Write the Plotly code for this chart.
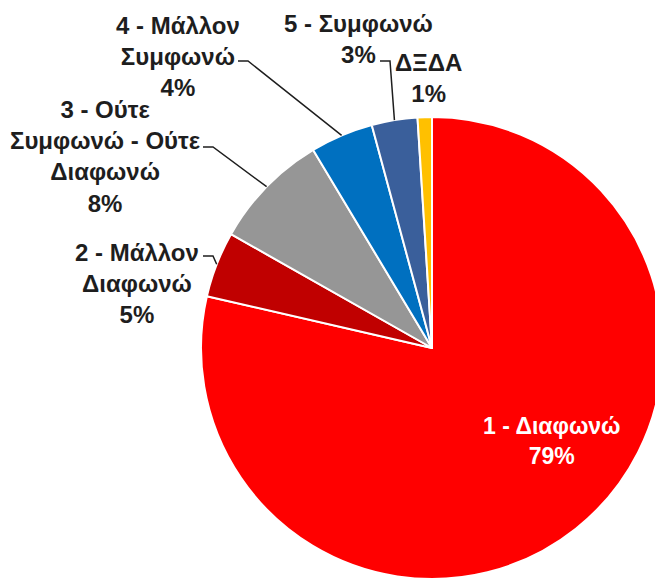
"""
Pie chart of answers (1 - Διαφωνώ ... 5 - Συμφωνώ, ΔΞΔΑ) with outside labels and leader lines.
"""

import math

import plotly.graph_objects as go

W, H = 663, 583
PAGE_OFFSET = 8  # default body margin of the html page

CATEGORIES = [
    "1 - Διαφωνώ",
    "2 - Μάλλον<br>Διαφωνώ",
    "3 - Ούτε<br>Συμφωνώ - Ούτε<br>Διαφωνώ",
    "4 - Μάλλον<br>Συμφωνώ",
    "5 - Συμφωνώ",
    "ΔΞΔΑ",
]
VALUES = [78.6, 4.6, 8.2, 4.4, 3.2, 1.0]
COLOURS = ["#FF0000", "#C00000", "#969696", "#0070C0", "#3A5F9B", "#FFC000"]

# label centre (px) and leader-line elbow points (px); None = no leader line
LABEL_POS = [(552, 441), (137, 283), (105, 156), (178, 56), (358, 39), (428, 78)]
ELBOWS = [
    None,
    [(203, 256), (213, 256)],
    [(203, 147), (213, 147)],
    [(238, 61), (248, 61)],
    [(380, 61), (390, 61)],
    None,
]

# pie placement in px
CX, CY, R = 432, 348, 231

FW, FH = W - PAGE_OFFSET, H - PAGE_OFFSET


def px(x, y):
    return (x - PAGE_OFFSET) / FW, 1 - (y - PAGE_OFFSET) / FH


def main() -> None:
    total = sum(VALUES)
    x0, y1 = px(CX - R, CY - R)
    x1, y0 = px(CX + R, CY + R)
    fig = go.Figure(
        go.Pie(
            labels=[c.replace("<br>", " ") for c in CATEGORIES],
            values=VALUES,
            sort=False,
            direction="clockwise",
            rotation=0,
            textinfo="none",
            marker=dict(colors=COLOURS, line=dict(color="white", width=2)),
            domain=dict(x=[x0, min(x1, 1)], y=[max(y0, 0), y1]),
            showlegend=False,
        )
    )

    cum = 0.0
    for i, (cat, val) in enumerate(zip(CATEGORIES, VALUES)):
        mid = 2 * math.pi * (cum + val / 2) / total
        cum += val
        pct = round(100 * val / total)
        lx, ly = px(*LABEL_POS[i])
        fig.add_annotation(
            x=lx, y=ly, xref="paper", yref="paper",
            text=f"<b>{cat}<br>{pct}%</b>",
            showarrow=False, align="center",
            xanchor="center", yanchor="middle",
            font=dict(family="Liberation Sans", size=24 if i else 23,
                      color="white" if i == 0 else "#1E1E1E"),
        )
        if ELBOWS[i]:
            tip = (CX + R * math.sin(mid), CY - R * math.cos(mid))
            pts = ELBOWS[i] + [tip]
            path = "M " + " L ".join(f"{px(x, y)[0]},{px(x, y)[1]}" for x, y in pts)
            fig.add_shape(type="path", path=path, xref="paper", yref="paper",
                          line=dict(color="#1E1E1E", width=1.5))

    fig.update_layout(
        width=FW, height=FH,
        margin=dict(l=0, r=0, t=0, b=0),
        paper_bgcolor="white",
        plot_bgcolor="white",
    )
    fig.write_html("out.html")


if __name__ == "__main__":
    main()
